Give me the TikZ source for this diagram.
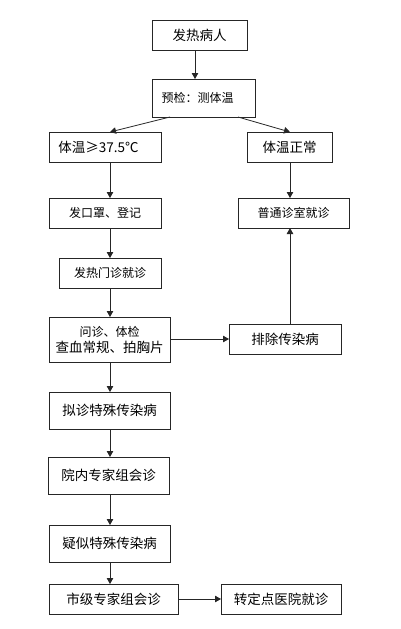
\documentclass[tikz,border=0pt]{standalone}
\usepackage{fontspec}
\newfontfamily\cjk{Noto Sans CJK SC}
\usetikzlibrary{arrows.meta}
\begin{document}
\begin{tikzpicture}[x=1pt,y=-1pt,
  box/.style={draw=black!85,line width=0.8pt,inner sep=0pt,outer sep=0pt,align=center,font=\cjk\fontsize{13.5}{16}\selectfont},
  sbox/.style={box,font=\cjk\fontsize{12}{15}\selectfont},
  arr/.style={draw=black!85,line width=0.8pt,-{Triangle[length=6pt,width=6.5pt]}}]
\useasboundingbox[fill=white] (0,0) rectangle (401,629);
\node[box,minimum width=95pt,minimum height=30pt] (A) at (199.5,35) {发热病人};
\node[sbox,minimum width=103pt,minimum height=38pt] (B) at (203.5,98) {预检：测体温\hspace{12pt}};
\node[box,minimum width=112pt,minimum height=30pt] (C) at (105,147) {体温≥37.5℃\hspace{13pt}};
\node[box,minimum width=85pt,minimum height=30pt] (D) at (289.5,147) {体温正常};
\node[sbox,minimum width=112pt,minimum height=30pt] (E) at (105,213) {发口罩、登记};
\node[sbox,minimum width=102pt,minimum height=30pt] (F) at (110,273) {发热门诊就诊};
\node[sbox,minimum width=111pt,minimum height=30pt] (G) at (293.5,213) {普通诊室就诊};
\node[box,minimum width=121pt,minimum height=45pt] (H) at (109.5,339.5) {{\fontsize{12}{19}\selectfont 问诊、体检}\\查血常规、拍胸片};
\node[box,minimum width=112pt,minimum height=30pt] (I) at (285,339) {排除传染病};
\node[box,minimum width=121pt,minimum height=37pt] (J) at (109.5,410.5) {拟诊特殊传染病};
\node[box,minimum width=121pt,minimum height=37pt] (K) at (108.5,475.5) {院内专家组会诊};
\node[box,minimum width=121pt,minimum height=37pt] (L) at (109.5,543.5) {疑似特殊传染病};
\node[box,minimum width=129pt,minimum height=30pt] (M) at (113.5,599) {市级专家组会诊};
\node[box,minimum width=120pt,minimum height=30pt] (N) at (281,599) {转定点医院就诊};
\coordinate (lx) at (110,0);
\coordinate (rx) at (290,0);
\draw[arr] ([xshift=-4.5pt]A.south) -- ([xshift=-8.5pt]B.north);
\draw[arr] ([xshift=18pt]B.south west) -- (C.north -| lx);
\draw[arr] ([xshift=86pt]B.south west) -- (D.north -| rx);
\draw[arr] (C.south -| lx) -- (E.north -| lx);
\draw[arr] (E.south -| lx) -- (F.north -| lx);
\draw[arr] (F.south -| lx) -- (H.north -| lx);
\draw[arr] (D.south -| rx) -- (G.north -| rx);
\draw[arr] (H.east |- I.west) -- (I.west);
\draw[arr] (I.north -| rx) -- (G.south -| rx);
\draw[arr] (H.south -| lx) -- (J.north -| lx);
\draw[arr] (J.south -| lx) -- (K.north -| lx);
\draw[arr] (K.south -| lx) -- (L.north -| lx);
\draw[arr] (L.south -| lx) -- (M.north -| lx);
\draw[arr] (M.east) -- (N.west);
\end{tikzpicture}
\end{document}
